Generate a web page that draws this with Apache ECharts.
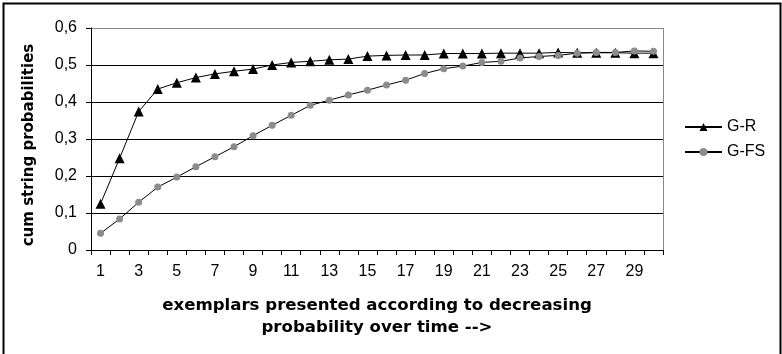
<!DOCTYPE html>
<html>
<head>
<meta charset="utf-8">
<script src="https://cdn.jsdelivr.net/npm/echarts@6/dist/echarts.min.js"></script>
<style>
html,body{margin:0;padding:0;background:#fff;}
#chart{width:782px;height:354px;}
</style>
</head>
<body>
<div id="chart"></div>
<script>
var categories = ['1','2','3','4','5','6','7','8','9','10','11','12','13','14','15','16','17','18','19','20','21','22','23','24','25','26','27','28','29','30'];
var seriesNames = ['G-R', 'G-FS'];
var gR = [0.125,0.248,0.374,0.435,0.452,0.466,0.476,0.483,0.489,0.500,0.507,0.510,0.514,0.516,0.524,0.526,0.527,0.527,0.531,0.531,0.531,0.532,0.532,0.532,0.534,0.533,0.533,0.533,0.532,0.532];
var gFS = [0.045,0.084,0.129,0.170,0.197,0.225,0.252,0.279,0.309,0.337,0.364,0.391,0.405,0.419,0.432,0.446,0.459,0.477,0.490,0.497,0.507,0.510,0.519,0.523,0.526,0.532,0.534,0.534,0.538,0.537];
var yTickLabels = ['0','0,1','0,2','0,3','0,4','0,5','0,6'];
var yTitle = 'cum string probabilities';
var xTitle = 'exemplars presented according to decreasing\nprobability over time -->';

var chart = echarts.init(document.getElementById('chart'));
var tickFont = 'Liberation Sans, Arial, sans-serif';
var titleFont = 'DejaVu Sans, Verdana, sans-serif';
chart.setOption({
  animation: false,
  backgroundColor: '#fff',
  grid: {left: 91, right: 119, top: 28, bottom: 104, show: false},
  graphic: [{
    type: 'rect', left: 1, top: 1, silent: true,
    shape: {x: 1, y: 1, width: 777, height: 370},
    style: {fill: 'none', stroke: '#000', lineWidth: 2}
  }, {
    type: 'line', silent: true, z: 0,
    shape: {x1: 663.5, y1: 28, x2: 663.5, y2: 250},
    style: {stroke: '#888', lineWidth: 1}
  }, {
    type: 'text', silent: true,
    x: 29, y: 145, rotation: Math.PI / 2,
    style: {text: yTitle, fill: '#000', font: 'bold 15px "DejaVu Sans", Verdana, sans-serif',
      align: 'center', verticalAlign: 'middle'}
  }],
  legend: {
    orient: 'vertical', left: 684, top: 119, padding: 0,
    itemWidth: 37, itemHeight: 10, itemGap: 9,
    textStyle: {fontFamily: tickFont, fontSize: 16, color: '#000'},
    data: seriesNames
  },
  xAxis: {
    type: 'category', data: categories, boundaryGap: true,
    name: xTitle, nameLocation: 'middle', nameGap: 45,
    nameTextStyle: {fontFamily: titleFont, fontWeight: 'bold', fontSize: 16.6, color: '#000', lineHeight: 22},
    axisLine: {lineStyle: {color: '#000', width: 1}},
    axisTick: {show: true, interval: 0, length: 5, inside: false, lineStyle: {color: '#000'}},
    axisLabel: {interval: 1, margin: 14, fontFamily: tickFont, fontSize: 16, color: '#000'},
    splitLine: {show: false}
  },
  yAxis: {
    type: 'value', min: 0, max: 0.6, interval: 0.1,
    axisLine: {show: true, lineStyle: {color: '#000', width: 1}},
    axisTick: {show: true, length: 5, lineStyle: {color: '#000'}},
    axisLabel: {margin: 14, fontFamily: tickFont, fontSize: 16, color: '#000',
      formatter: function (v) { return yTickLabels[Math.round(v * 10)]; }},
    splitLine: {show: true, lineStyle: {color: ['#000','#000','#000','#000','#000','#000','#888'], width: 1}}
  },
  series: [{
    name: seriesNames[0], type: 'line', data: gR,
    symbol: 'triangle', symbolSize: 10,
    itemStyle: {color: '#000'},
    lineStyle: {color: '#000', width: 1}
  }, {
    name: seriesNames[1], type: 'line', data: gFS,
    symbol: 'circle', symbolSize: 7,
    itemStyle: {color: '#8c8c8c', borderWidth: 0},
    lineStyle: {color: '#000', width: 1}
  }]
});
</script>
</body>
</html>
